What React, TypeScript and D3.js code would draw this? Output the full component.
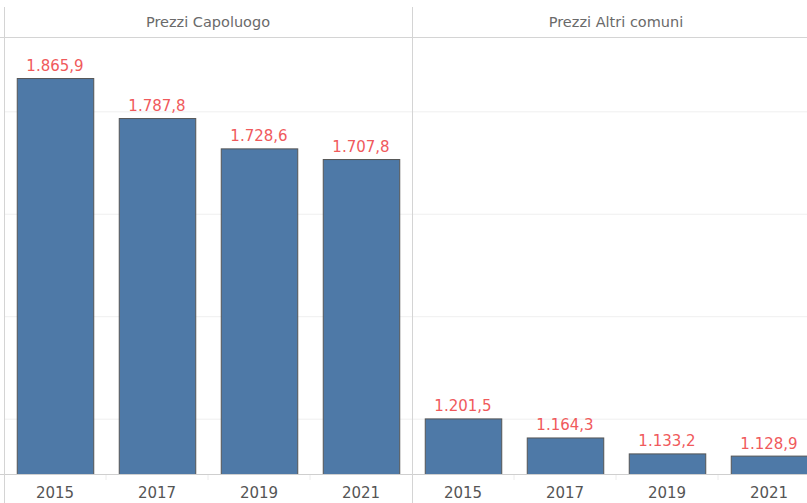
import { scaleBand, scaleLinear } from "d3"

const years = ["2015", "2017", "2019", "2021"]
const panels = ["Prezzi Capoluogo", "Prezzi Altri comuni"]
const capoluogo = [1865.9, 1787.8, 1728.6, 1707.8]
const altriComuni = [1201.5, 1164.3, 1133.2, 1128.9]
const gridTicks = [1200, 1400, 1600, 1800]

const fmt = (v: number) => {
  const s = v.toFixed(1).replace(".", ",")
  const [i, d] = s.split(",")
  return i.replace(/\B(?=(\d{3})+(?!\d))/g, ".") + "," + d
}

export default function App() {
  const W = 807
  const H = 503
  const left = 4
  const panelW = 408
  const top = 37
  const base = 474
  const series = [capoluogo, altriComuni]

  const y = scaleLinear().domain([1093, 1946]).range([base, top])
  const x = scaleBand().domain(years).range([0, panelW]).paddingInner(0.25).paddingOuter(0.125)

  return (
    <svg
      width={W}
      height={H}
      style={{ position: "absolute", left: 0, top: 0, background: "#fff" }}
      fontFamily="'DejaVu Sans', Verdana, sans-serif"
    >
      <defs>
        <clipPath id="clip">
          <rect x={0} y={0} width={W} height={H} />
        </clipPath>
      </defs>
      <g clipPath="url(#clip)">
        {panels.map((name, p) => {
          const ox = left + p * panelW
          const vals = series[p]
          return (
            <g key={name} transform={`translate(${ox},0)`}>
              {/* header */}
              <text x={panelW / 2} y={27} textAnchor="middle" fontSize={14.5} fill="#6a6a6a">
                {name}
              </text>
              {/* gridlines */}
              {gridTicks.map((t) => (
                <line key={t} x1={0} x2={panelW} y1={y(t)} y2={y(t)} stroke="#efefef" strokeWidth={1} />
              ))}
              {/* bars */}
              {vals.map((v, i) => (
                <g key={i}>
                  <rect
                    x={x(years[i])! + 0.5}
                    y={y(v) + 0.5}
                    width={x.bandwidth()}
                    height={base - y(v)}
                    fill="#4e79a7"
                    stroke="#555"
                    strokeWidth={1}
                  />
                  <text
                    x={x(years[i])! + x.bandwidth() / 2}
                    y={y(v) - 7}
                    textAnchor="middle"
                    fontSize={15}
                    fill="#f05a5c"
                  >
                    {fmt(v)}
                  </text>
                </g>
              ))}
              {/* baseline ticks between categories */}
              {years.slice(1).map((yr) => (
                <line
                  key={yr}
                  x1={x(yr)! - (x.step() - x.bandwidth()) / 2}
                  x2={x(yr)! - (x.step() - x.bandwidth()) / 2}
                  y1={base}
                  y2={base + 6}
                  stroke="#ececec"
                />
              ))}
              {/* year labels */}
              {years.map((yr) => (
                <text
                  key={yr}
                  x={x(yr)! + x.bandwidth() / 2}
                  y={498}
                  textAnchor="middle"
                  fontSize={15}
                  fill="#555"
                >
                  {yr}
                </text>
              ))}
            </g>
          )
        })}
        {/* frame lines */}
        <line x1={0} x2={W} y1={top + 0.5} y2={top + 0.5} stroke="#d4d4d4" />
        <line x1={0} x2={W} y1={base + 0.5} y2={base + 0.5} stroke="#cfcfcf" />
        <line x1={left + 0.5} x2={left + 0.5} y1={7} y2={H} stroke="#d4d4d4" />
        <line x1={left + panelW + 0.5} x2={left + panelW + 0.5} y1={7} y2={H} stroke="#d4d4d4" />
      </g>
    </svg>
  )
}
